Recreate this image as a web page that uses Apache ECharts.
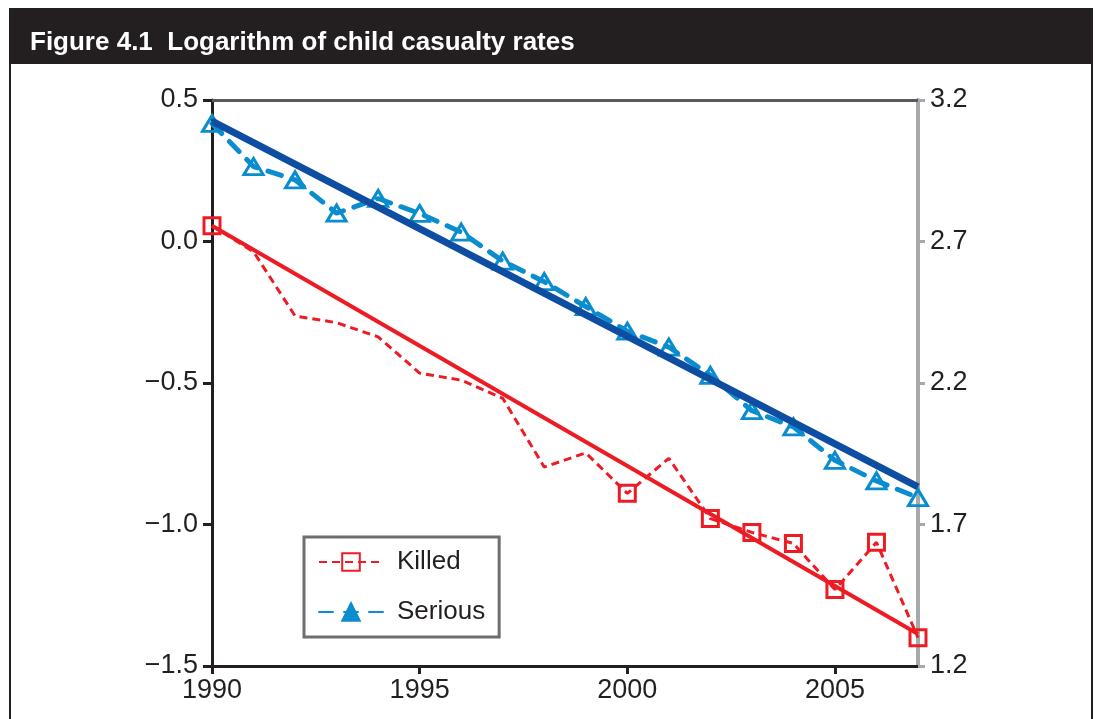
<!DOCTYPE html>
<html>
<head>
<meta charset="utf-8">
<title>Figure 4.1 Logarithm of child casualty rates</title>
<script src="https://cdn.jsdelivr.net/npm/echarts@6/dist/echarts.min.js"></script>
<style>
  html, body { margin: 0; padding: 0; background: #ffffff; }
  #chart { width: 1095px; height: 719px; }
</style>
</head>
<body>
<div id="chart"></div>
<script>
// Years on the horizontal axis
const years = ['1990', '1991', '1992', '1993', '1994', '1995', '1996', '1997', '1998',
  '1999', '2000', '2001', '2002', '2003', '2004', '2005', '2006', '2007'];

// log of child killed rate (left axis)
const killed = [0.056, -0.036, -0.263, -0.287, -0.337, -0.465, -0.49, -0.554, -0.797,
  -0.747, -0.89, -0.766, -0.979, -1.028, -1.067, -1.23, -1.063, -1.40];

// log of child seriously injured rate (right axis)
const serious = [3.117, 2.965, 2.918, 2.80, 2.852, 2.799, 2.733, 2.631, 2.558,
  2.470, 2.383, 2.327, 2.227, 2.102, 2.045, 1.927, 1.854, 1.795];

// Linear trend end points (1990 and 2007)
const killedTrend = [0.056, -1.387];
const seriousTrend = [3.125, 1.833];

// Left and right axis tick labels
const leftTicks = [-1.5, -1.0, -0.5, 0.0, 0.5];
const rightTicks = [1.2, 1.7, 2.2, 2.7, 3.2];

// Killed points drawn with a square marker
const killedMarked = ['1990', '2000', '2002', '2003', '2004', '2005', '2006', '2007'];

const RED = '#ed1c24';
const LIGHT_BLUE = '#0a8dcf';
const DARK_BLUE = '#0d4ea2';
const INK = '#231f20';
const FONT = '"Liberation Sans", Arial, Helvetica, sans-serif';
const TICK_FONT = 27;

const fmt = v => (v < 0 ? '\u2212' + Math.abs(v).toFixed(1) : v.toFixed(1));
const every5 = idx => idx % 5 === 0;

const killedData = killed.map((v, i) =>
  killedMarked.includes(years[i]) ? v : { value: v, symbol: 'none' });

const trendData = (pair) => years.map((y, i) =>
  i === 0 ? pair[0] : (i === years.length - 1 ? pair[1] : null));

const chart = echarts.init(document.getElementById('chart'), null, { renderer: 'canvas' });

chart.setOption({
  animation: false,
  backgroundColor: '#ffffff',
  textStyle: { fontFamily: FONT },
  graphic: [
    {
      type: 'rect', z: -10, silent: true,
      shape: { x: 10, y: 9, width: 1082, height: 740 },
      style: { fill: '#ffffff', stroke: INK, lineWidth: 2 }
    },
    {
      type: 'rect', z: -9, silent: true,
      shape: { x: 9, y: 9, width: 1084, height: 55 },
      style: { fill: INK }
    }
  ],
  title: {
    text: 'Figure 4.1  Logarithm of child casualty rates',
    left: 30, top: 30, padding: 0,
    textStyle: { color: '#ffffff', fontSize: 26, fontWeight: 'bold', fontFamily: FONT }
  },
  legend: {
    data: [
      { name: 'Killed' },
      { name: 'Serious', itemStyle: { color: LIGHT_BLUE } }
    ],
    orient: 'vertical',
    left: 304, top: 537,
    padding: [12, 14, 12, 14],
    itemWidth: 64, itemHeight: 22, itemGap: 24,
    borderColor: '#6d6e71', borderWidth: 3, borderRadius: 0,
    backgroundColor: '#ffffff',
    textStyle: { fontSize: 26, color: INK, fontFamily: FONT, padding: [0, 0, 0, 9] }
  },
  grid: { left: 212, right: 177, top: 100, bottom: 53 },
  xAxis: [
    {
      type: 'category', data: years, boundaryGap: false, position: 'bottom',
      axisLine: { onZero: false, lineStyle: { color: INK, width: 3 } },
      axisTick: { show: true, interval: every5, length: 8, lineStyle: { color: INK, width: 3 } },
      axisLabel: { interval: every5, margin: 11, fontSize: TICK_FONT, color: INK, fontFamily: FONT },
      splitLine: { show: false }
    },
    {
      type: 'category', data: years, boundaryGap: false, position: 'top',
      axisLine: { onZero: false, lineStyle: { color: '#58595b', width: 3 } },
      axisTick: { show: false }, axisLabel: { show: false }, splitLine: { show: false }
    }
  ],
  yAxis: [
    {
      type: 'value', position: 'left',
      min: leftTicks[0], max: leftTicks[leftTicks.length - 1], interval: 0.5,
      axisLine: { show: true, onZero: false, lineStyle: { color: INK, width: 3 } },
      axisTick: { show: true, length: 9, lineStyle: { color: INK, width: 3 } },
      axisLabel: { formatter: fmt, margin: 14, fontSize: TICK_FONT, color: INK, fontFamily: FONT },
      splitLine: { show: false }
    },
    {
      type: 'value', position: 'right',
      min: rightTicks[0], max: rightTicks[rightTicks.length - 1], interval: 0.5,
      axisLine: { show: true, onZero: false, lineStyle: { color: '#a7a9ac', width: 4 } },
      axisTick: { show: true, length: 7, lineStyle: { color: '#a7a9ac', width: 3 } },
      axisLabel: { formatter: v => v.toFixed(1), margin: 12, fontSize: TICK_FONT, color: INK, fontFamily: FONT },
      splitLine: { show: false }
    }
  ],
  series: [
    {
      name: 'Killed', type: 'line', yAxisIndex: 0, data: killedData,
      symbol: 'rect', symbolSize: 16,
      lineStyle: { color: RED, width: 3, type: [8, 5] },
      itemStyle: { color: 'rgba(255,255,255,0)', borderColor: RED, borderWidth: 3 },
      z: 2
    },
    {
      name: 'Serious', type: 'line', yAxisIndex: 1, data: serious,
      symbol: 'triangle', symbolSize: [19, 16],
      lineStyle: { color: LIGHT_BLUE, width: 5, type: [14, 11], cap: 'round' },
      itemStyle: { color: 'rgba(255,255,255,0)', borderColor: LIGHT_BLUE, borderWidth: 3 },
      z: 2
    },
    {
      name: 'Killed trend', type: 'line', yAxisIndex: 0, data: trendData(killedTrend),
      connectNulls: true, showSymbol: false, symbol: 'none',
      lineStyle: { color: RED, width: 4 }, z: 3
    },
    {
      name: 'Serious trend', type: 'line', yAxisIndex: 1, data: trendData(seriousTrend),
      connectNulls: true, showSymbol: false, symbol: 'none',
      lineStyle: { color: DARK_BLUE, width: 7 }, z: 3
    }
  ]
});
</script>
</body>
</html>
